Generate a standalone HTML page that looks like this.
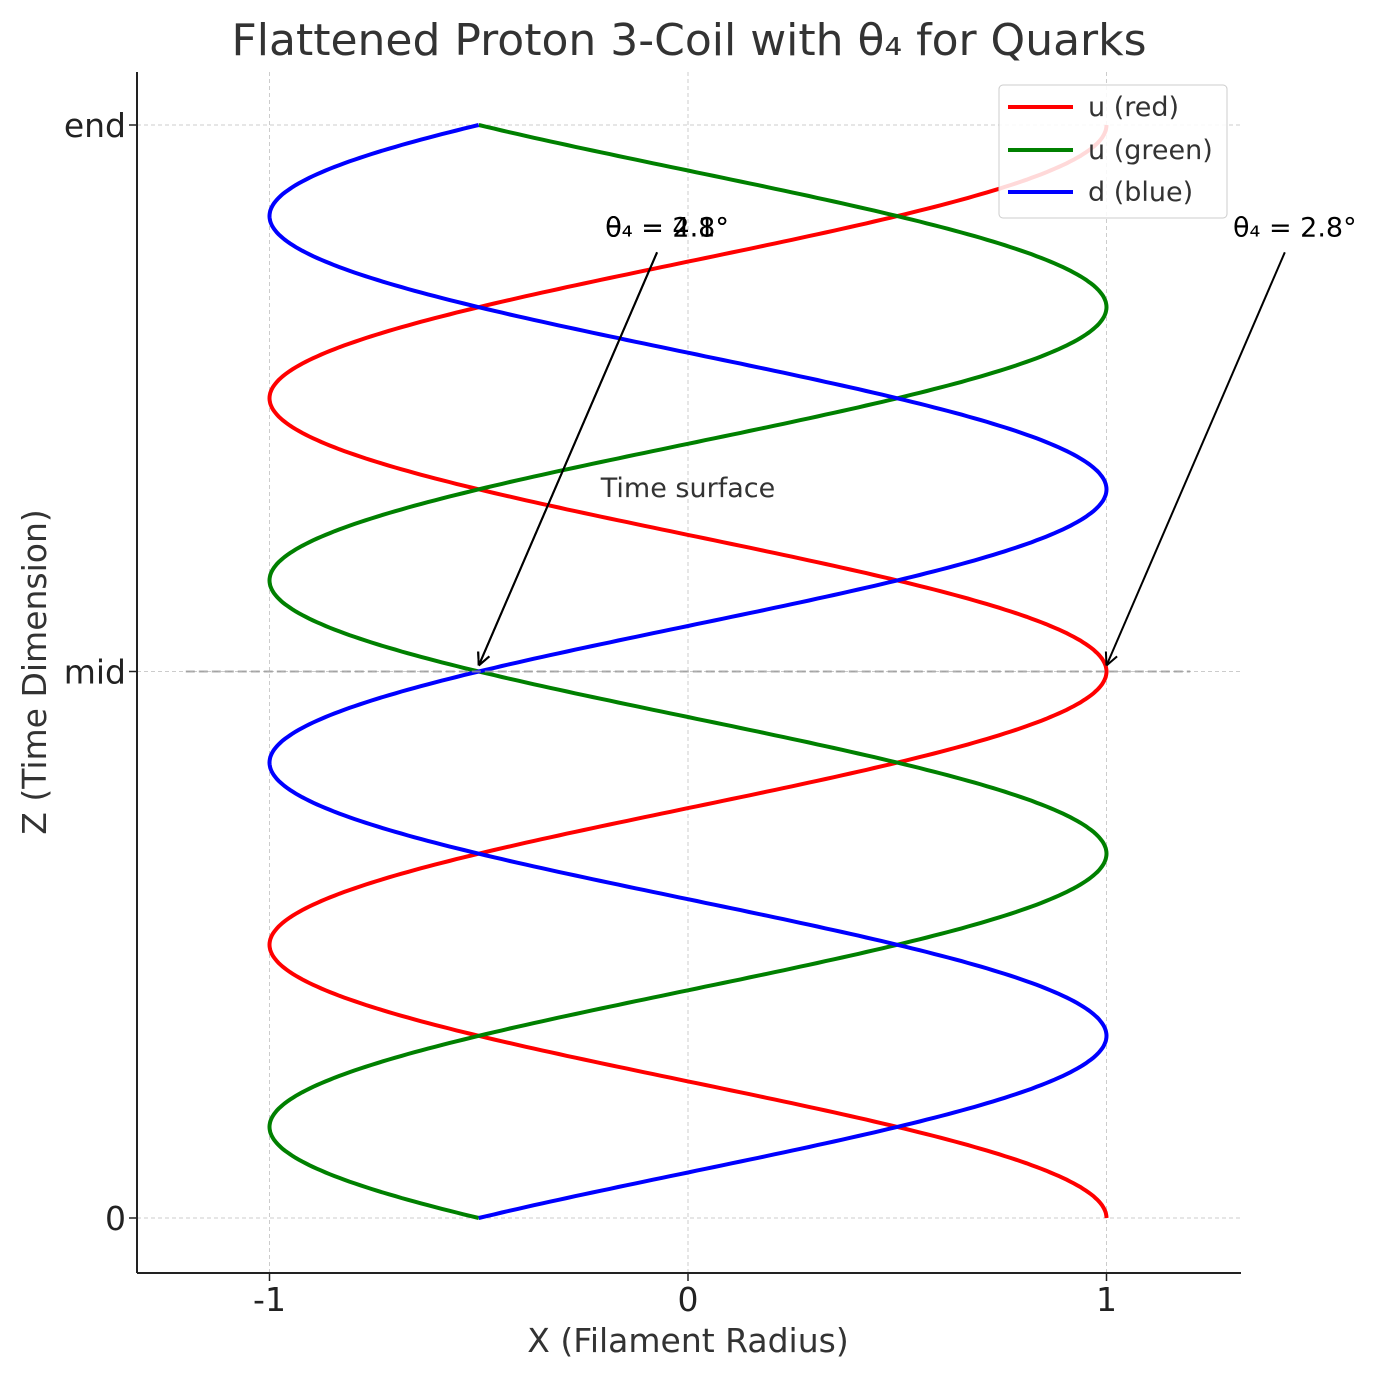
<!DOCTYPE html>
<html><head><meta charset="utf-8"><style>
body{margin:0;background:#fff}
svg text{font-family:"DejaVu Sans","Liberation Sans",sans-serif}
</style></head><body>
<svg id="chart" width="1379" height="1380" xmlns="http://www.w3.org/2000/svg">
<text x="689" y="55" font-size="44" text-anchor="middle" fill="#333">Flattened Proton 3-Coil with θ₄ for Quarks</text>
<g id="grid"></g>
<g id="series"></g>
<g id="axes"></g>
<g id="ann"></g>
<text x="688" y="1352" font-size="33" text-anchor="middle" fill="#333">X (Filament Radius)</text>
<text transform="translate(46,672) rotate(-90)" font-size="33" text-anchor="middle" fill="#333">Z (Time Dimension)</text>
<g>
<rect x="999" y="85" width="228" height="133" rx="4" fill="#fff" fill-opacity="0.85" stroke="#ccc"/>
<line x1="1008" y1="107" x2="1073" y2="107" stroke="red" stroke-width="4"/>
<text x="1088" y="116" font-size="27" fill="#333">u (red)</text>
<line x1="1008" y1="150" x2="1073" y2="150" stroke="green" stroke-width="4"/>
<text x="1088" y="159" font-size="27" fill="#333">u (green)</text>
<line x1="1008" y1="192" x2="1073" y2="192" stroke="blue" stroke-width="4"/>
<text x="1088" y="201" font-size="27" fill="#333">d (blue)</text>
</g>
</svg>
<script>
const xTicks=[-1,0,1];
const yTickVals=[0,0.5,1];
const yTickLabels=["0","mid","end"];
const seriesNames=["u (red)","u (green)","d (blue)"];
const seriesColors=["red","green","blue"];
const seriesPhases=[0,2*Math.PI/3,4*Math.PI/3];
const turns=2;
const annTexts=["θ₄ = 4.1°","θ₄ = 2.8°","θ₄ = 2.8°"];
const annTargetX=[-0.5,-0.5,1];
const annTextX=[-0.05,-0.05,1.45];
const annTextY=[0.9,0.9,0.9];
const NS="http://www.w3.org/2000/svg";
const X=v=>688+v*418.5, Y=v=>1218-v*1093;
function mk(t,a,p){const e=document.createElementNS(NS,t);for(const k in a)e.setAttribute(k,a[k]);p.appendChild(e);return e;}
const grid=document.getElementById('grid'),axes=document.getElementById('axes'),ser=document.getElementById('series'),ann=document.getElementById('ann');
xTicks.forEach(v=>{
 const g=mk('line',{x1:X(v),x2:X(v),y1:72,y2:1273,stroke:'#ccc','stroke-dasharray':'4,3','stroke-width':1},grid);
 
 
 mk('line',{x1:X(v),x2:X(v),y1:1273,y2:1281,stroke:'#222','stroke-width':1.5},axes);
 const t=mk('text',{x:X(v),y:1311,'font-size':33,'text-anchor':'middle',fill:'#222'},axes);t.textContent=v;
 
 
});
yTickVals.forEach((v,i)=>{
 const g=mk('line',{x1:137,x2:1241,y1:Y(v),y2:Y(v),stroke:'#ccc','stroke-dasharray':'4,3','stroke-width':1},grid);
 
 
 mk('line',{x1:129,x2:137,y1:Y(v),y2:Y(v),stroke:'#222','stroke-width':1.5},axes);
 const t=mk('text',{x:126,y:Y(v)+12,'font-size':33,'text-anchor':'end',fill:'#222'},axes);t.textContent=yTickLabels[i];
 
 
});
const sl=mk('line',{x1:137,x2:137,y1:72,y2:1273,stroke:'#222','stroke-width':2},axes);


const sb=mk('line',{x1:137,x2:1241,y1:1273,y2:1273,stroke:'#222','stroke-width':2},axes);


seriesPhases.forEach((ph,i)=>{
 let d='';
 for(let k=0;k<=600;k++){const s=k/600;const x=Math.cos(2*Math.PI*turns*s+ph);d+=(k?'L':'M')+X(x).toFixed(1)+','+Y(s).toFixed(1);}
 const p=mk('path',{d:d,fill:'none',stroke:seriesColors[i],'stroke-width':4},ser);
 
 
});
const ml=mk('line',{x1:X(-1.2),x2:X(1.2),y1:Y(0.5),y2:Y(0.5),stroke:'#999','stroke-dasharray':'9,4','stroke-width':2,opacity:0.8},ser);


const ts=mk('text',{x:688,y:497,'font-size':27,'text-anchor':'middle',fill:'#333'},ann);ts.textContent='Time surface';


annTexts.forEach((txt,i)=>{
 const tx=X(annTextX[i]),ty=Y(annTextY[i]);
 const t=mk('text',{x:tx,y:ty+2,'font-size':27,'text-anchor':'middle',fill:'#000'},ann);t.textContent=txt;
 
 
 const x1=tx-10,y1=ty+18,x2=X(annTargetX[i]),y2=Y(0.5)-6;
 const a=mk('line',{x1:x1,y1:y1,x2:x2,y2:y2,stroke:'#000','stroke-width':2},ann);
 
 
 const ang=Math.atan2(y2-y1,x2-x1);
 [0.45,-0.45].forEach(o=>mk('line',{x1:x2,y1:y2,x2:x2-14*Math.cos(ang+o),y2:y2-14*Math.sin(ang+o),stroke:'#000','stroke-width':2},ann));
});
</script>
</body></html>
